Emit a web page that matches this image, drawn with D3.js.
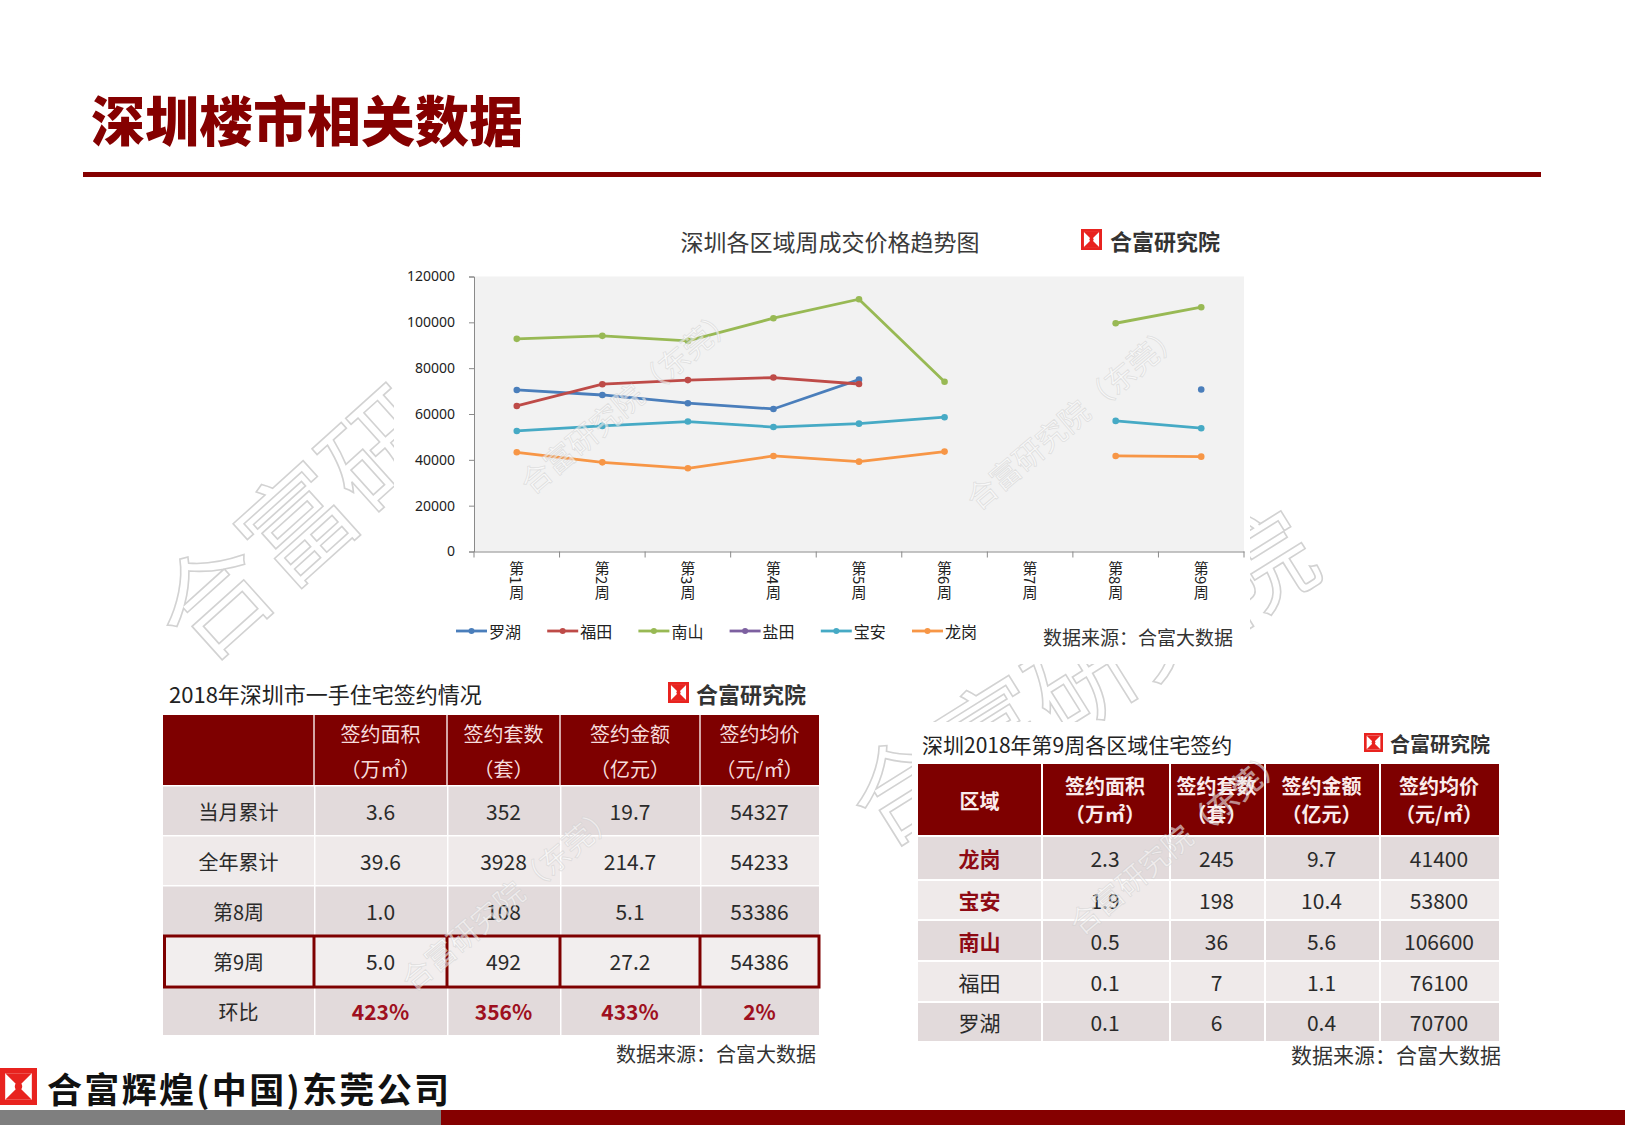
<!DOCTYPE html>
<html><head><meta charset="utf-8">
<script src="https://cdn.jsdelivr.net/npm/d3@7"></script>
<style>
html,body{margin:0;padding:0;background:#fff;}
svg{display:block;font-family:"Noto Sans CJK SC","Noto Sans",sans-serif;}
</style></head>
<body>
<svg id="c" width="1625" height="1125"></svg>
<script>
// ---------- DATA ----------
const weeks = ["第1周","第2周","第3周","第4周","第5周","第6周","第7周","第8周","第9周"];
const seriesNames = ["罗湖","福田","南山","盐田","宝安","龙岗"];
const seriesColors = ["#4a7ebb","#be4b48","#98b954","#7d60a0","#46aac5","#f79646"];
const luohu  = [70500, 68300, 64700, 62200, 75000, null, null, null, 70700];
const futian = [63500, 73000, 74800, 75900, 73100, null, null, null, null];
const nanshan= [92800, 94100, 91900, 101800, 110100, 74100, null, 99600, 106600];
const yantian= [null, null, null, null, null, null, null, null, null];
const baoan  = [52600, 54800, 56700, 54300, 55800, 58600, null, 57000, 53800];
const longgang=[43300, 38900, 36300, 41700, 39200, 43600, null, 41700, 41400];
const seriesValues = [luohu, futian, nanshan, yantian, baoan, longgang];
const yTicks = [0, 20000, 40000, 60000, 80000, 100000, 120000];

// left table
const leftHeaders = [["签约面积","（万㎡）"],["签约套数","（套）"],["签约金额","（亿元）"],["签约均价","（元/㎡）"]];
const leftRowLabels = ["当月累计","全年累计","第8周","第9周","环比"];
const leftArea   = ["3.6","39.6","1.0","5.0","423%"];
const leftUnits  = ["352","3928","108","492","356%"];
const leftAmount = ["19.7","214.7","5.1","27.2","433%"];
const leftPrice  = ["54327","54233","53386","54386","2%"];

// right table
const rightHeaders = [["区域"],["签约面积","（万㎡）"],["签约套数","（套）"],["签约金额","（亿元）"],["签约均价","（元/㎡）"]];
const rightRegions = ["龙岗","宝安","南山","福田","罗湖"];
const rightArea   = ["2.3","1.9","0.5","0.1","0.1"];
const rightUnits  = ["245","198","36","7","6"];
const rightAmount = ["9.7","10.4","5.6","1.1","0.4"];
const rightPrice  = ["41400","53800","106600","76100","70700"];

// ---------- DRAW ----------
const svg = d3.select("#c");
const RED = "#850000";

// big background watermarks
function bigWatermark(x, y, angle, size) {
  svg.append("text").attr("transform", `translate(${x},${y}) rotate(${angle})`)
    .attr("font-size", size).attr("fill", "none").attr("stroke", "#d2d2d2").attr("stroke-width", 1.6)
    .text("合富研究院");
}
bigWatermark(200, 668, -42, 112);
bigWatermark(880, 850, -32, 105);

// Title
svg.append("text").attr("x", 91).attr("y", 118).attr("dominant-baseline", "central")
  .attr("font-size", 54).attr("font-weight", 900).attr("fill", RED).text("深圳楼市相关数据");
svg.append("rect").attr("x", 83).attr("y", 172).attr("width", 1458).attr("height", 5).attr("fill", RED);

// logo
function logo(x, y, s) {
  const g = svg.append("g").attr("transform", `translate(${x},${y})`);
  g.append("rect").attr("width", s).attr("height", s).attr("fill", "#e8231f");
  const m = s * 0.14;
  g.append("rect").attr("x", m).attr("y", m).attr("width", s - 2*m).attr("height", s - 2*m).attr("fill", "#fff");
  g.append("path").attr("d", `M${m},${m}L${s-m},${m}L${s/2},${s/2}Z M${m},${s-m}L${s-m},${s-m}L${s/2},${s/2}Z`).attr("fill", "#e8231f");
  g.append("circle").attr("cx", s/2).attr("cy", s/2).attr("r", s*0.1).attr("fill", "#e8231f");
  return g;
}

// ---------- Chart ----------
svg.append("rect").attr("x", 394).attr("y", 212).attr("width", 856).attr("height", 452).attr("fill", "#fff");
const x = d3.scaleBand().domain(weeks).range([474, 1244]);
const y = d3.scaleLinear().domain([0, 120000]).range([551.5, 276.5]);
svg.append("rect").attr("x", 474).attr("y", y(120000)).attr("width", 770).attr("height", y(0) - y(120000)).attr("fill", "#f2f2f2");

svg.append("text").attr("x", 830).attr("y", 241).attr("text-anchor", "middle").attr("dominant-baseline", "central")
  .attr("font-size", 23).attr("fill", "#3a3a3a").text("深圳各区域周成交价格趋势图");
logo(1081, 229, 21);
svg.append("text").attr("x", 1110).attr("y", 240).attr("dominant-baseline", "central")
  .attr("font-size", 22).attr("font-weight", 700).attr("fill", "#333").text("合富研究院");

const yAxis = svg.append("g").attr("transform", "translate(474,0)")
  .call(d3.axisLeft(y).tickValues(yTicks).tickSize(5).tickPadding(14).tickFormat(d => String(d)));
yAxis.selectAll("path,line").attr("stroke", "#8a8a8a");
yAxis.selectAll("text").attr("font-size", 14).attr("fill", "#222").attr("font-family", "'Liberation Sans Narrow','Noto Sans',sans-serif");

const xAxis = svg.append("g").attr("transform", `translate(0,${y(0)})`)
  .call(d3.axisBottom(x).tickSize(0).tickFormat(""));
xAxis.select("path").attr("stroke", "#8a8a8a");
const bounds = d3.range(weeks.length + 1).map(i => x.range()[0] + i * x.step());
svg.append("g").selectAll("line").data(bounds).join("line")
  .attr("x1", d => d).attr("x2", d => d).attr("y1", y(0)).attr("y2", y(0) + 6).attr("stroke", "#8a8a8a");
svg.append("g").selectAll("text").data(weeks).join("text")
  .attr("x", d => x(d) + x.bandwidth()/2).attr("y", 561)
  .style("writing-mode", "vertical-rl").attr("font-size", 15).attr("fill", "#222")
  .text(d => d);

const line = d3.line().defined(d => d[1] != null).x(d => x(d[0]) + x.bandwidth()/2).y(d => y(d[1]));
seriesValues.forEach((vals, i) => {
  const pts = weeks.map((w, j) => [w, vals[j]]);
  svg.append("path").attr("d", line(pts)).attr("fill", "none").attr("stroke", seriesColors[i]).attr("stroke-width", 2.8);
  svg.append("g").selectAll("circle").data(pts.filter(p => p[1] != null)).join("circle")
    .attr("cx", p => x(p[0]) + x.bandwidth()/2).attr("cy", p => y(p[1])).attr("r", 3.3).attr("fill", seriesColors[i]);
});

// legend
const leg = svg.append("g").selectAll("g").data(seriesNames).join("g")
  .attr("transform", (d, i) => `translate(${456 + i * 91.2},631)`);
leg.append("line").attr("x1", 0).attr("x2", 31).attr("stroke", (d, i) => seriesColors[i]).attr("stroke-width", 2.8);
leg.append("circle").attr("cx", 15.5).attr("r", 3).attr("fill", (d, i) => seriesColors[i]);
leg.append("text").attr("x", 33).attr("dominant-baseline", "central").attr("font-size", 16).attr("fill", "#222").text(d => d);
svg.append("text").attr("x", 1233).attr("y", 636).attr("text-anchor", "end").attr("dominant-baseline", "central")
  .attr("font-size", 19).attr("fill", "#333").text("数据来源：合富大数据");

// ---------- Left table ----------
svg.append("rect").attr("x", 160).attr("y", 672).attr("width", 665).attr("height", 395).attr("fill", "#fff");
svg.append("text").attr("x", 169).attr("y", 693).attr("dominant-baseline", "central")
  .attr("font-size", 22).attr("fill", "#222").text("2018年深圳市一手住宅签约情况");
logo(668, 682, 21);
svg.append("text").attr("x", 696).attr("y", 693).attr("dominant-baseline", "central")
  .attr("font-size", 22).attr("font-weight", 700).attr("fill", "#333").text("合富研究院");

const lCols = [163, 314, 447, 560, 700, 819];
const lRows = [785, 835, 885, 935, 985, 1035];
const lHeadTop = 715;
svg.append("rect").attr("x", lCols[0]).attr("y", lHeadTop).attr("width", lCols[5] - lCols[0]).attr("height", lRows[0] - lHeadTop).attr("fill", "#7e0000");
for (let c = 1; c < 5; c++) {
  svg.append("line").attr("x1", lCols[c]).attr("x2", lCols[c]).attr("y1", lHeadTop).attr("y2", lRows[0]).attr("stroke", "#f3dede").attr("stroke-width", 1.5);
}
leftHeaders.forEach((h, i) => {
  const cx = (lCols[i+1] + lCols[i+2]) / 2;
  h.forEach((t, k) => svg.append("text").attr("x", cx).attr("y", 733 + k * 35).attr("text-anchor", "middle")
    .attr("dominant-baseline", "central").attr("font-size", 20).attr("fill", "#f6dcdc").text(t));
});
const leftCols = [leftRowLabels, leftArea, leftUnits, leftAmount, leftPrice];
const leftFill = ["#e2dadb", "#efeaea", "#e2dadb", "#f2eeee", "#e2dadb"];
leftRowLabels.forEach((r, ri) => {
  for (let c = 0; c < 5; c++) {
    svg.append("rect").attr("x", lCols[c] + (c ? 1.5 : 0)).attr("y", lRows[ri] + 1.5)
      .attr("width", lCols[c+1] - lCols[c] - (c ? 1.5 : 0)).attr("height", lRows[ri+1] - lRows[ri] - 1.5)
      .attr("fill", leftFill[ri]);
    const isPct = ri === 4 && c > 0;
    svg.append("text").attr("x", (lCols[c] + lCols[c+1]) / 2).attr("y", (lRows[ri] + lRows[ri+1]) / 2 + 1)
      .attr("text-anchor", "middle").attr("dominant-baseline", "central")
      .attr("font-size", c ? 21 : 20).attr("font-weight", isPct ? 700 : 400)
      .attr("fill", isPct ? "#9e1020" : "#2a2a2a").text(leftCols[c][ri]);
  }
});
// highlight week 9 row
svg.append("rect").attr("x", lCols[0] + 1.5).attr("y", lRows[3] + 1).attr("width", lCols[5] - lCols[0] - 1.5).attr("height", lRows[4] - lRows[3] + 1)
  .attr("fill", "none").attr("stroke", "#7e0000").attr("stroke-width", 3);
for (let c = 1; c < 5; c++) {
  svg.append("line").attr("x1", lCols[c]).attr("x2", lCols[c]).attr("y1", lRows[3]).attr("y2", lRows[4] + 2).attr("stroke", "#7e0000").attr("stroke-width", 3);
}
svg.append("text").attr("x", 816).attr("y", 1053).attr("text-anchor", "end").attr("dominant-baseline", "central")
  .attr("font-size", 20).attr("fill", "#333").text("数据来源：合富大数据");

// ---------- Right table ----------
svg.append("rect").attr("x", 912).attr("y", 722).attr("width", 595).attr("height", 345).attr("fill", "#fff");
svg.append("text").attr("x", 922).attr("y", 744).attr("dominant-baseline", "central")
  .attr("font-size", 21).attr("fill", "#222").text("深圳2018年第9周各区域住宅签约");
logo(1364, 733, 19);
svg.append("text").attr("x", 1390).attr("y", 743).attr("dominant-baseline", "central")
  .attr("font-size", 20).attr("font-weight", 700).attr("fill", "#333").text("合富研究院");

const rCols = [918, 1041, 1169, 1264, 1379, 1499];
const rRows = [835, 879, 919, 960, 1001, 1041];
const rHeadTop = 764;
rightHeaders.forEach((h, i) => {
  svg.append("rect").attr("x", rCols[i] + (i ? 2 : 0)).attr("y", rHeadTop).attr("width", rCols[i+1] - rCols[i] - (i ? 2 : 0))
    .attr("height", rRows[0] - rHeadTop).attr("fill", "#7e0000");
  const cx = (rCols[i] + rCols[i+1]) / 2;
  if (h.length === 1) {
    svg.append("text").attr("x", cx).attr("y", 800).attr("text-anchor", "middle").attr("dominant-baseline", "central")
      .attr("font-size", 20).attr("font-weight", 700).attr("fill", "#fbecec").text(h[0]);
  } else {
    h.forEach((t, k) => svg.append("text").attr("x", cx).attr("y", 785 + k * 28).attr("text-anchor", "middle")
      .attr("dominant-baseline", "central").attr("font-size", 20).attr("font-weight", 700).attr("fill", "#fbecec").text(t));
  }
});
const rightCols = [rightRegions, rightArea, rightUnits, rightAmount, rightPrice];
const rightFill = ["#e2dadb", "#efeaea", "#e2dadb", "#efeaea", "#e2dadb"];
rightRegions.forEach((r, ri) => {
  for (let c = 0; c < 5; c++) {
    svg.append("rect").attr("x", rCols[c] + (c ? 2 : 0)).attr("y", rRows[ri] + 2)
      .attr("width", rCols[c+1] - rCols[c] - (c ? 2 : 0)).attr("height", rRows[ri+1] - rRows[ri] - 2)
      .attr("fill", rightFill[ri]);
    const hl = c === 0 && ri < 3;
    svg.append("text").attr("x", (rCols[c] + rCols[c+1]) / 2).attr("y", (rRows[ri] + rRows[ri+1]) / 2 + 1)
      .attr("text-anchor", "middle").attr("dominant-baseline", "central")
      .attr("font-size", 21).attr("font-weight", hl ? 700 : 400)
      .attr("fill", hl ? "#8e0a14" : "#2a2a2a").text(rightCols[c][ri]);
  }
});
svg.append("text").attr("x", 1501).attr("y", 1054).attr("text-anchor", "end").attr("dominant-baseline", "central")
  .attr("font-size", 21).attr("fill", "#333").text("数据来源：合富大数据");

// ---------- small watermarks (on top) ----------
function smallWatermark(cx, cy) {
  svg.append("text").attr("transform", `translate(${cx},${cy}) rotate(-40)`)
    .attr("text-anchor", "middle").attr("dominant-baseline", "central")
    .attr("font-size", 30).attr("fill", "#ffffff").attr("fill-opacity", 0.55)
    .attr("stroke", "#c8c8c8").attr("stroke-opacity", 0.5).attr("stroke-width", 0.8)
    .text("合富研究院（东莞）");
}
smallWatermark(627, 399);
smallWatermark(1073, 415);
smallWatermark(508, 896);
smallWatermark(1176, 840);

// ---------- footer ----------
logo(0, 1068, 37);
svg.append("text").attr("x", 47).attr("y", 1087).attr("dominant-baseline", "central")
  .attr("font-size", 35).attr("font-weight", 700).attr("fill", "#111")
  .attr("textLength", 402).attr("lengthAdjust", "spacing").text("合富辉煌(中国)东莞公司");
svg.append("rect").attr("x", 0).attr("y", 1110).attr("width", 441).attr("height", 15).attr("fill", "#7f7f7f");
svg.append("rect").attr("x", 441).attr("y", 1110).attr("width", 1184).attr("height", 15).attr("fill", RED);
</script>
</body></html>
